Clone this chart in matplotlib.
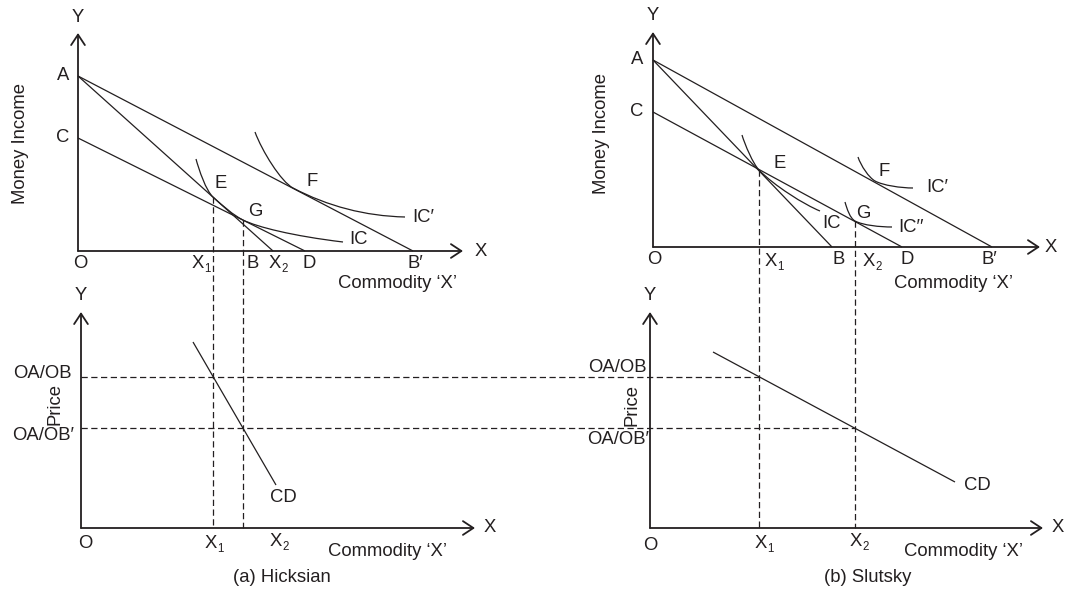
import matplotlib
matplotlib.use("Agg")
import matplotlib.pyplot as plt
from matplotlib.path import Path
from matplotlib.patches import PathPatch

plt.rcParams["font.family"] = ["Liberation Sans", "DejaVu Sans"]

INK = "#231f20"
FS = 13.3

# ---------------- data (figure pixel space) -------
# Hicksian upper panel
h_origin = (78, 251)
h_axis_ends = (463, 33)            # x-axis end x, y-axis end y
h_A = (78, 76)
h_C = (78, 138)
h_B = (273, 251)
h_D = (305, 251)
h_Bp = (413, 251)
h_E = (213, 197)
h_G = (243, 220)
# indifference curves as cubic Bezier chains (knots + control points)
h_IC = [(196, 159), (199, 170), (206, 190.7), (213, 197),
        (223, 206), (233, 215), (243, 220),
        (257, 227), (293, 236), (343, 242)]
h_ICp = [(255, 132), (262, 151), (281, 181.7), (293, 188),
         (328, 206.3), (365, 216), (405, 217)]

# Slutsky upper panel
s_origin = (653, 247)
s_axis_ends = (1040, 32)
s_A = (653, 60)
s_C = (653, 112)
s_B = (832, 247)
s_D = (902, 247)
s_Bp = (992, 247)
s_E = (759, 170)
s_G = (855, 221)
s_IC = [(742, 135), (745, 145), (753, 163.7), (759, 170),
        (774, 185.7), (805, 205), (820, 211)]
s_ICp = [(858, 157), (861, 166), (869, 177.7), (875, 181),
         (883, 185.4), (901, 188), (913, 188)]
s_ICpp = [(845, 202), (847, 209), (850, 218.3), (855, 221),
          (863, 225.3), (880, 227), (892, 227)]

# lower (price) panels
hl_origin = (81, 528)
hl_axis_ends = (475, 312)
sl_origin = (650, 528)
sl_axis_ends = (1043, 312)
price_levels_y = [377, 428]            # OA/OB, OA/OB'
price_lines_end_x = [759, 855]         # dashed guides reach Slutsky X1, X2
h_CD = [(193, 342), (276, 485)]
s_CD = [(713, 352), (955, 482)]

# ---------------------------------------------------------------------------
fig = plt.figure(figsize=(10.75, 5.93), dpi=100)
ax = fig.add_axes([0, 0, 1, 1])
ax.set_xlim(0, 1075)
ax.set_ylim(593, 0)
ax.axis("off")

LW = 0.9
AXLW = 1.3
DASH = (0, (5, 2.8))


def axes_arrows(origin, ends):
    ox, oy = origin
    xe, ye = ends
    style = "->,head_length=0.5,head_width=0.33"
    ax.annotate("", xy=(xe, oy), xytext=(ox, oy),
                arrowprops=dict(arrowstyle=style, lw=AXLW, color=INK,
                                shrinkA=0, shrinkB=0, mutation_scale=15))
    ax.annotate("", xy=(ox, ye), xytext=(ox, oy),
                arrowprops=dict(arrowstyle=style, lw=AXLW, color=INK,
                                shrinkA=0, shrinkB=0, mutation_scale=15))


def seg(p, q, **kw):
    ax.plot([p[0], q[0]], [p[1], q[1]], color=INK, lw=LW,
            solid_capstyle="butt", **kw)


def bez(pts):
    codes = [Path.MOVETO] + [Path.CURVE4] * (len(pts) - 1)
    ax.add_patch(PathPatch(Path(pts, codes), fill=False, ec=INK, lw=LW))


def txt(x, y, s, ha="center", va="center", rot=0, fs=FS):
    ax.text(x, y, s, ha=ha, va=va, rotation=rot, fontsize=fs, color=INK)


def xsub(x, y, digit):
    """'X' centred at (x, y) with a small subscript digit."""
    txt(x, y, "X")
    txt(x + 6.5, y + 5.5, digit, ha="left", fs=8.3)


# ---- axes
axes_arrows(h_origin, h_axis_ends)
axes_arrows(s_origin, s_axis_ends)
axes_arrows(hl_origin, hl_axis_ends)
axes_arrows(sl_origin, sl_axis_ends)

# ---- budget lines
for p, q in [(h_A, h_Bp), (h_A, h_B), (h_C, h_D),
             (s_A, s_Bp), (s_A, s_B), (s_C, s_D)]:
    seg(p, q)

# ---- indifference curves
for c in (h_IC, h_ICp, s_IC, s_ICp, s_ICpp):
    bez(c)

# ---- demand curves
seg(*h_CD)
seg(*s_CD)

# ---- dashed guides
for pt in (h_E, h_G):
    ax.plot([pt[0], pt[0]], [pt[1], hl_origin[1]], color=INK, lw=LW, ls=DASH)
for pt in (s_E, s_G):
    ax.plot([pt[0], pt[0]], [pt[1], sl_origin[1]], color=INK, lw=LW, ls=DASH)
for yv, xe in zip(price_levels_y, price_lines_end_x):
    ax.plot([hl_origin[0], xe], [yv, yv], color=INK, lw=LW, ls=DASH)

# ---- labels, Hicksian upper
txt(78, 17, "Y"); txt(481, 252, "X")
txt(63, 76, "A"); txt(63, 138, "C")
txt(80, 264, "O"); xsub(198, 264, "1"); txt(253, 264, "B")
xsub(275, 264, "2"); txt(309, 264, "D"); txt(415, 264, "B′")
txt(397, 283, "Commodity ‘X’")
txt(221, 184, "E"); txt(255, 211, "G"); txt(312, 182, "F")
txt(412, 218, "IC′", ha="left"); txt(349, 240, "IC", ha="left")
txt(21, 143, "Money Income", rot=90)

# ---- labels, Slutsky upper
txt(653, 15, "Y"); txt(1051, 247, "X")
txt(637, 60, "A"); txt(637, 112, "C")
txt(654, 260, "O"); xsub(771, 261, "1"); txt(839, 260, "B")
xsub(869, 261, "2"); txt(907, 260, "D"); txt(989, 260, "B′")
txt(953, 283, "Commodity ‘X’")
txt(780, 164, "E"); txt(884, 171, "F"); txt(863, 213, "G")
txt(831, 223, "IC"); txt(926, 188, "IC′", ha="left")
txt(898, 228, "IC′′", ha="left")
txt(602, 133, "Money Income", rot=90)

# ---- labels, Hicksian lower
txt(81, 295, "Y"); txt(490, 528, "X")
txt(42, 373, "OA/OB"); txt(43, 436, "OA/OB′")
txt(55, 404, "Price", rot=90)
txt(85, 544, "O"); xsub(211, 543, "1"); xsub(276, 541, "2")
txt(387, 551, "Commodity ‘X’")
txt(283, 498, "CD")
txt(282, 578, "(a) Hicksian")

# ---- labels, Slutsky lower
txt(650, 296, "Y"); txt(1058, 528, "X")
txt(617, 368, "OA/OB"); txt(618, 439, "OA/OB′")
txt(632, 405, "Price", rot=90)
txt(650, 545, "O"); xsub(761, 543, "1"); xsub(856, 541, "2")
txt(963, 551, "Commodity ‘X’")
txt(977, 485, "CD")
txt(868, 578, "(b) Slutsky")

fig.savefig("out.png", dpi=100, facecolor="white")
